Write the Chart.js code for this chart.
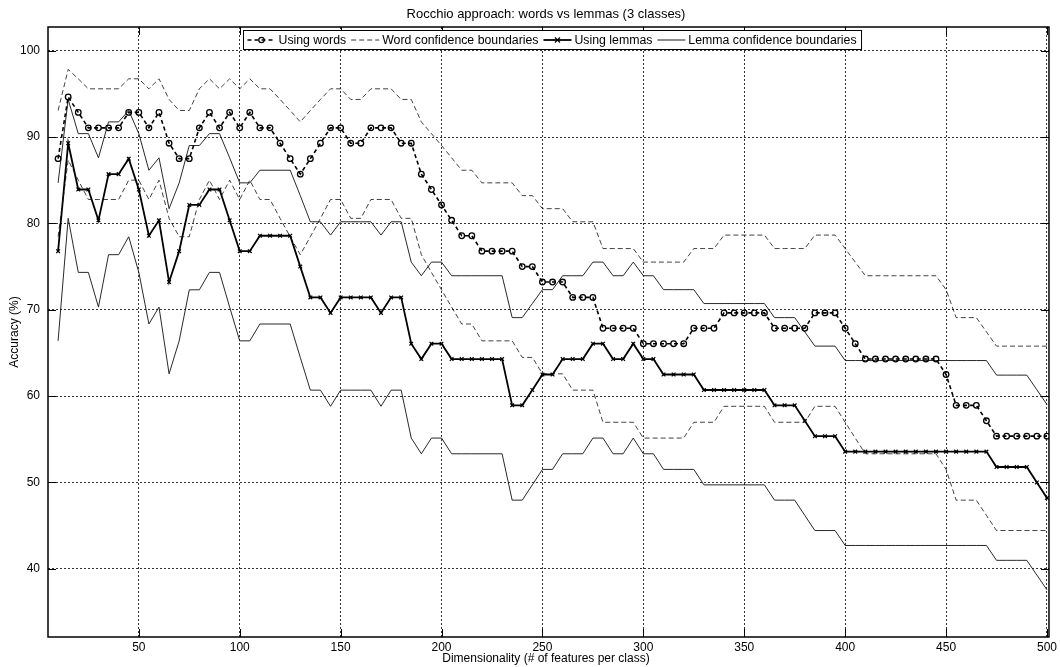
<!DOCTYPE html>
<html>
<head>
<meta charset="utf-8">
<title>Rocchio approach: words vs lemmas (3 classes)</title>
<script src="https://cdn.jsdelivr.net/npm/chart.js@4.4.1/dist/chart.umd.min.js"></script>
<style>
  html, body { margin: 0; padding: 0; background: #fff; }
  #wrap { width: 1060px; height: 667px; position: relative; }
</style>
</head>
<body>
<div id="wrap"><canvas id="grafico"></canvas></div>
<script>
// Dimensionality (# of features per class)
const dims = [
    10, 15, 20, 25, 30, 35, 40, 45, 50, 55,
    60, 65, 70, 75, 80, 85, 90, 95, 100, 105,
    110, 115, 120, 125, 130, 135, 140, 145, 150, 155,
    160, 165, 170, 175, 180, 185, 190, 195, 200, 205,
    210, 215, 220, 225, 230, 235, 240, 245, 250, 255,
    260, 265, 270, 275, 280, 285, 290, 295, 300, 305,
    310, 315, 320, 325, 330, 335, 340, 345, 350, 355,
    360, 365, 370, 375, 380, 385, 390, 395, 400, 405,
    410, 415, 420, 425, 430, 435, 440, 445, 450, 455,
    460, 465, 470, 475, 480, 485, 490, 495, 500
];

// Accuracy (%) using words
const wordAcc = [
    87.50, 94.64, 92.86, 91.07, 91.07, 91.07, 91.07, 92.86, 92.86, 91.07,
    92.86, 89.29, 87.50, 87.50, 91.07, 92.86, 91.07, 92.86, 91.07, 92.86,
    91.07, 91.07, 89.29, 87.50, 85.71, 87.50, 89.29, 91.07, 91.07, 89.29,
    89.29, 91.07, 91.07, 91.07, 89.29, 89.29, 85.71, 83.93, 82.14, 80.36,
    78.57, 78.57, 76.79, 76.79, 76.79, 76.79, 75.00, 75.00, 73.21, 73.21,
    73.21, 71.43, 71.43, 71.43, 67.86, 67.86, 67.86, 67.86, 66.07, 66.07,
    66.07, 66.07, 66.07, 67.86, 67.86, 67.86, 69.64, 69.64, 69.64, 69.64,
    69.64, 67.86, 67.86, 67.86, 67.86, 69.64, 69.64, 69.64, 67.86, 66.07,
    64.29, 64.29, 64.29, 64.29, 64.29, 64.29, 64.29, 64.29, 62.50, 58.93,
    58.93, 58.93, 57.14, 55.36, 55.36, 55.36, 55.36, 55.36, 55.36
];

// Word confidence boundaries (upper / lower)
const wordHi = [
    93.08, 97.84, 96.75, 95.59, 95.59, 95.59, 95.59, 96.75, 96.75, 95.59,
    96.75, 94.36, 93.08, 93.08, 95.59, 96.75, 95.59, 96.75, 95.59, 96.75,
    95.59, 95.59, 94.36, 93.08, 91.76, 93.08, 94.36, 95.59, 95.59, 94.36,
    94.36, 95.59, 95.59, 95.59, 94.36, 94.36, 91.76, 90.40, 89.02, 87.60,
    86.16, 86.16, 84.70, 84.70, 84.70, 84.70, 83.22, 83.22, 81.71, 81.71,
    81.71, 80.19, 80.19, 80.19, 77.09, 77.09, 77.09, 77.09, 75.52, 75.52,
    75.52, 75.52, 75.52, 77.09, 77.09, 77.09, 78.65, 78.65, 78.65, 78.65,
    78.65, 77.09, 77.09, 77.09, 77.09, 78.65, 78.65, 78.65, 77.09, 75.52,
    73.94, 73.94, 73.94, 73.94, 73.94, 73.94, 73.94, 73.94, 72.33, 69.09,
    69.09, 69.09, 67.44, 65.79, 65.79, 65.79, 65.79, 65.79, 65.79
];
const wordLo = [
    78.46, 87.33, 85.01, 82.77, 82.77, 82.77, 82.77, 85.01, 85.01, 82.77,
    85.01, 80.59, 78.46, 78.46, 82.77, 85.01, 82.77, 85.01, 82.77, 85.01,
    82.77, 82.77, 80.59, 78.46, 76.38, 78.46, 80.59, 82.77, 82.77, 80.59,
    80.59, 82.77, 82.77, 82.77, 80.59, 80.59, 76.38, 74.33, 72.31, 70.31,
    68.35, 68.35, 66.40, 66.40, 66.40, 66.40, 64.48, 64.48, 62.58, 62.58,
    62.58, 60.69, 60.69, 60.69, 56.97, 56.97, 56.97, 56.97, 55.14, 55.14,
    55.14, 55.14, 55.14, 56.97, 56.97, 56.97, 58.82, 58.82, 58.82, 58.82,
    58.82, 56.97, 56.97, 56.97, 56.97, 58.82, 58.82, 58.82, 56.97, 55.14,
    53.32, 53.32, 53.32, 53.32, 53.32, 53.32, 53.32, 53.32, 51.51, 47.95,
    47.95, 47.95, 46.18, 44.43, 44.43, 44.43, 44.43, 44.43, 44.43
];

// Accuracy (%) using lemmas
const lemAcc = [
    76.79, 89.29, 83.93, 83.93, 80.36, 85.71, 85.71, 87.50, 83.93, 78.57,
    80.36, 73.21, 76.79, 82.14, 82.14, 83.93, 83.93, 80.36, 76.79, 76.79,
    78.57, 78.57, 78.57, 78.57, 75.00, 71.43, 71.43, 69.64, 71.43, 71.43,
    71.43, 71.43, 69.64, 71.43, 71.43, 66.07, 64.29, 66.07, 66.07, 64.29,
    64.29, 64.29, 64.29, 64.29, 64.29, 58.93, 58.93, 60.71, 62.50, 62.50,
    64.29, 64.29, 64.29, 66.07, 66.07, 64.29, 64.29, 66.07, 64.29, 64.29,
    62.50, 62.50, 62.50, 62.50, 60.71, 60.71, 60.71, 60.71, 60.71, 60.71,
    60.71, 58.93, 58.93, 58.93, 57.14, 55.36, 55.36, 55.36, 53.57, 53.57,
    53.57, 53.57, 53.57, 53.57, 53.57, 53.57, 53.57, 53.57, 53.57, 53.57,
    53.57, 53.57, 53.57, 51.79, 51.79, 51.79, 51.79, 50.00, 48.21
];

// Lemma confidence boundaries (upper / lower)
const lemHi = [
    84.70, 94.36, 90.40, 90.40, 87.60, 91.76, 91.76, 93.08, 90.40, 86.16,
    87.60, 81.71, 84.70, 89.02, 89.02, 90.40, 90.40, 87.60, 84.70, 84.70,
    86.16, 86.16, 86.16, 86.16, 83.22, 80.19, 80.19, 78.65, 80.19, 80.19,
    80.19, 80.19, 78.65, 80.19, 80.19, 75.52, 73.94, 75.52, 75.52, 73.94,
    73.94, 73.94, 73.94, 73.94, 73.94, 69.09, 69.09, 70.72, 72.33, 72.33,
    73.94, 73.94, 73.94, 75.52, 75.52, 73.94, 73.94, 75.52, 73.94, 73.94,
    72.33, 72.33, 72.33, 72.33, 70.72, 70.72, 70.72, 70.72, 70.72, 70.72,
    70.72, 69.09, 69.09, 69.09, 67.44, 65.79, 65.79, 65.79, 64.12, 64.12,
    64.12, 64.12, 64.12, 64.12, 64.12, 64.12, 64.12, 64.12, 64.12, 64.12,
    64.12, 64.12, 64.12, 62.43, 62.43, 62.43, 62.43, 60.73, 59.03
];
const lemLo = [
    66.40, 80.59, 74.33, 74.33, 70.31, 76.38, 76.38, 78.46, 74.33, 68.35,
    70.31, 62.58, 66.40, 72.31, 72.31, 74.33, 74.33, 70.31, 66.40, 66.40,
    68.35, 68.35, 68.35, 68.35, 64.48, 60.69, 60.69, 58.82, 60.69, 60.69,
    60.69, 60.69, 58.82, 60.69, 60.69, 55.14, 53.32, 55.14, 55.14, 53.32,
    53.32, 53.32, 53.32, 53.32, 53.32, 47.95, 47.95, 49.72, 51.51, 51.51,
    53.32, 53.32, 53.32, 55.14, 55.14, 53.32, 53.32, 55.14, 53.32, 53.32,
    51.51, 51.51, 51.51, 51.51, 49.72, 49.72, 49.72, 49.72, 49.72, 49.72,
    49.72, 47.95, 47.95, 47.95, 46.18, 44.43, 44.43, 44.43, 42.70, 42.70,
    42.70, 42.70, 42.70, 42.70, 42.70, 42.70, 42.70, 42.70, 42.70, 42.70,
    42.70, 42.70, 42.70, 40.98, 40.98, 40.98, 40.98, 39.27, 37.57
];

// Tick labels
const xTicks = [50, 100, 150, 200, 250, 300, 350, 400, 450, 500];
const yTicks = [40, 50, 60, 70, 80, 90, 100];

const FONT = "'Liberation Sans', Arial, sans-serif";

function serie(ys) {
    return dims.map((x, i) => ({ x: x, y: ys[i] }));
}

// Legend entries (lower bounds share the entry of the upper ones)
const legendItems = [
    { label: 'Using words', dash: [4, 3], width: 1.6, marker: 'circle' },
    { label: 'Word confidence boundaries', dash: [5, 3], width: 0.8 },
    { label: 'Using lemmas', dash: [], width: 1.8, marker: 'x' },
    { label: 'Lemma confidence boundaries', dash: [], width: 0.9 }
];

// Frame, inward ticks, title, axis titles and MATLAB-like legend
const moldura = {
    id: 'moldura',
    afterDraw(chart) {
        const ctx = chart.ctx;
        const a = chart.chartArea;
        const xs = chart.scales.x, ys = chart.scales.y;
        ctx.save();
        ctx.setLineDash([]);
        ctx.strokeStyle = '#000';
        ctx.lineWidth = 1;

        const seg = (x1, y1, x2, y2) => {
            ctx.beginPath(); ctx.moveTo(x1, y1); ctx.lineTo(x2, y2); ctx.stroke();
        };
        xTicks.forEach(v => {
            const p = Math.round(xs.getPixelForValue(v)) + 0.5;
            seg(p, a.bottom, p, a.bottom - 8);
            seg(p, a.top, p, a.top + 8);
        });
        yTicks.forEach(v => {
            const p = Math.round(ys.getPixelForValue(v)) + 0.5;
            seg(a.left, p, a.left + 8, p);
            seg(a.right, p, a.right - 8, p);
        });

        ctx.lineWidth = 1.5;
        ctx.strokeRect(a.left, a.top, a.right - a.left, a.bottom - a.top);

        // title and axis titles
        ctx.fillStyle = '#000';
        ctx.textAlign = 'center';
        ctx.textBaseline = 'middle';
        ctx.font = '13px ' + FONT;
        ctx.fillText('Rocchio approach: words vs lemmas (3 classes)', 546, 14);
        ctx.font = '12px ' + FONT;
        ctx.fillText('Dimensionality (# of features per class)', 546, 659);
        ctx.save();
        ctx.translate(15, 332);
        ctx.rotate(-Math.PI / 2);
        ctx.fillText('Accuracy (%)', 0, 0);
        ctx.restore();

        // legend
        ctx.font = '12.3px ' + FONT;
        ctx.textAlign = 'left';
        const lineLen = 28, gapA = 3, gapB = 5;
        let total = 4;
        legendItems.forEach(it => { total += lineLen + gapA + ctx.measureText(it.label).width + gapB; });
        const lx = 243.5, ly = 30.5, lh = 19;
        ctx.fillStyle = '#fff';
        ctx.fillRect(lx, ly, total, lh);
        ctx.lineWidth = 1;
        ctx.strokeRect(lx, ly, total, lh);
        const cy = ly + lh / 2;
        let cx = lx + 4;
        legendItems.forEach(it => {
            ctx.strokeStyle = '#000';
            ctx.lineWidth = it.width;
            ctx.setLineDash(it.dash);
            seg(cx, cy, cx + lineLen, cy);
            ctx.setLineDash([]);
            const mx = cx + lineLen / 2;
            if (it.marker === 'circle') {
                ctx.lineWidth = 1.2;
                ctx.beginPath(); ctx.arc(mx, cy, 2.7, 0, Math.PI * 2); ctx.stroke();
            } else if (it.marker === 'x') {
                ctx.lineWidth = 1.2;
                seg(mx - 2.5, cy - 2.5, mx + 2.5, cy + 2.5);
                seg(mx - 2.5, cy + 2.5, mx + 2.5, cy - 2.5);
            }
            ctx.fillStyle = '#000';
            ctx.fillText(it.label, cx + lineLen + gapA, cy + 0.5);
            cx += lineLen + gapA + ctx.measureText(it.label).width + gapB;
        });
        ctx.restore();
    }
};

document.addEventListener('DOMContentLoaded', () => {
    const ctxGrafico = document.getElementById('grafico').getContext('2d');
    new Chart(ctxGrafico, {
        type: 'line',
        data: {
            datasets: [{
                label: 'Using words',
                data: serie(wordAcc),
                borderColor: '#000',
                borderWidth: 1.6,
                borderDash: [4, 3],
                pointStyle: 'circle',
                pointRadius: 2.8,
                pointBorderWidth: 1.3,
                pointBorderColor: '#000',
                pointBackgroundColor: 'rgba(0,0,0,0)'
            }, {
                label: 'Word confidence boundaries',
                data: serie(wordHi),
                borderColor: '#111',
                borderWidth: 0.8,
                borderDash: [5, 3],
                pointRadius: 0
            }, {
                label: 'Word confidence boundaries (lower)',
                data: serie(wordLo),
                borderColor: '#111',
                borderWidth: 0.8,
                borderDash: [5, 3],
                pointRadius: 0
            }, {
                label: 'Using lemmas',
                data: serie(lemAcc),
                borderColor: '#000',
                borderWidth: 1.8,
                pointStyle: 'crossRot',
                pointRadius: 2.6,
                pointBorderWidth: 1.2,
                pointBorderColor: '#000'
            }, {
                label: 'Lemma confidence boundaries',
                data: serie(lemHi),
                borderColor: '#111',
                borderWidth: 0.9,
                pointRadius: 0
            }, {
                label: 'Lemma confidence boundaries (lower)',
                data: serie(lemLo),
                borderColor: '#111',
                borderWidth: 0.9,
                pointRadius: 0
            }]
        },
        options: {
            responsive: true,
            maintainAspectRatio: false,
            animation: false,
            events: [],
            layout: { padding: { top: 27, right: 8, left: 0, bottom: 0 } },
            plugins: {
                legend: { display: false },
                title: { display: false },
                tooltip: { enabled: false }
            },
            elements: { line: { tension: 0 } },
            scales: {
                x: {
                    type: 'linear',
                    min: 5,
                    max: 501,
                    afterBuildTicks: s => { s.ticks = xTicks.map(v => ({ value: v })); },
                    afterFit: s => { s.height = 30; },
                    grid: { color: '#333', lineWidth: 1, drawTicks: false },
                    border: { display: false, dash: [2, 2] },
                    ticks: {
                        color: '#000',
                        font: { family: FONT, size: 12 },
                        padding: 3,
                        maxRotation: 0,
                        callback: v => String(v)
                    }
                },
                y: {
                    type: 'linear',
                    min: 32.1,
                    max: 102.75,
                    afterBuildTicks: s => { s.ticks = yTicks.map(v => ({ value: v })); },
                    afterFit: s => { s.width = 48; },
                    grid: { color: '#333', lineWidth: 1, drawTicks: false },
                    border: { display: false, dash: [2, 2] },
                    ticks: {
                        color: '#000',
                        font: { family: FONT, size: 12 },
                        padding: 8,
                        callback: v => String(v)
                    }
                }
            }
        },
        plugins: [moldura]
    });
});
</script>
</body>
</html>
